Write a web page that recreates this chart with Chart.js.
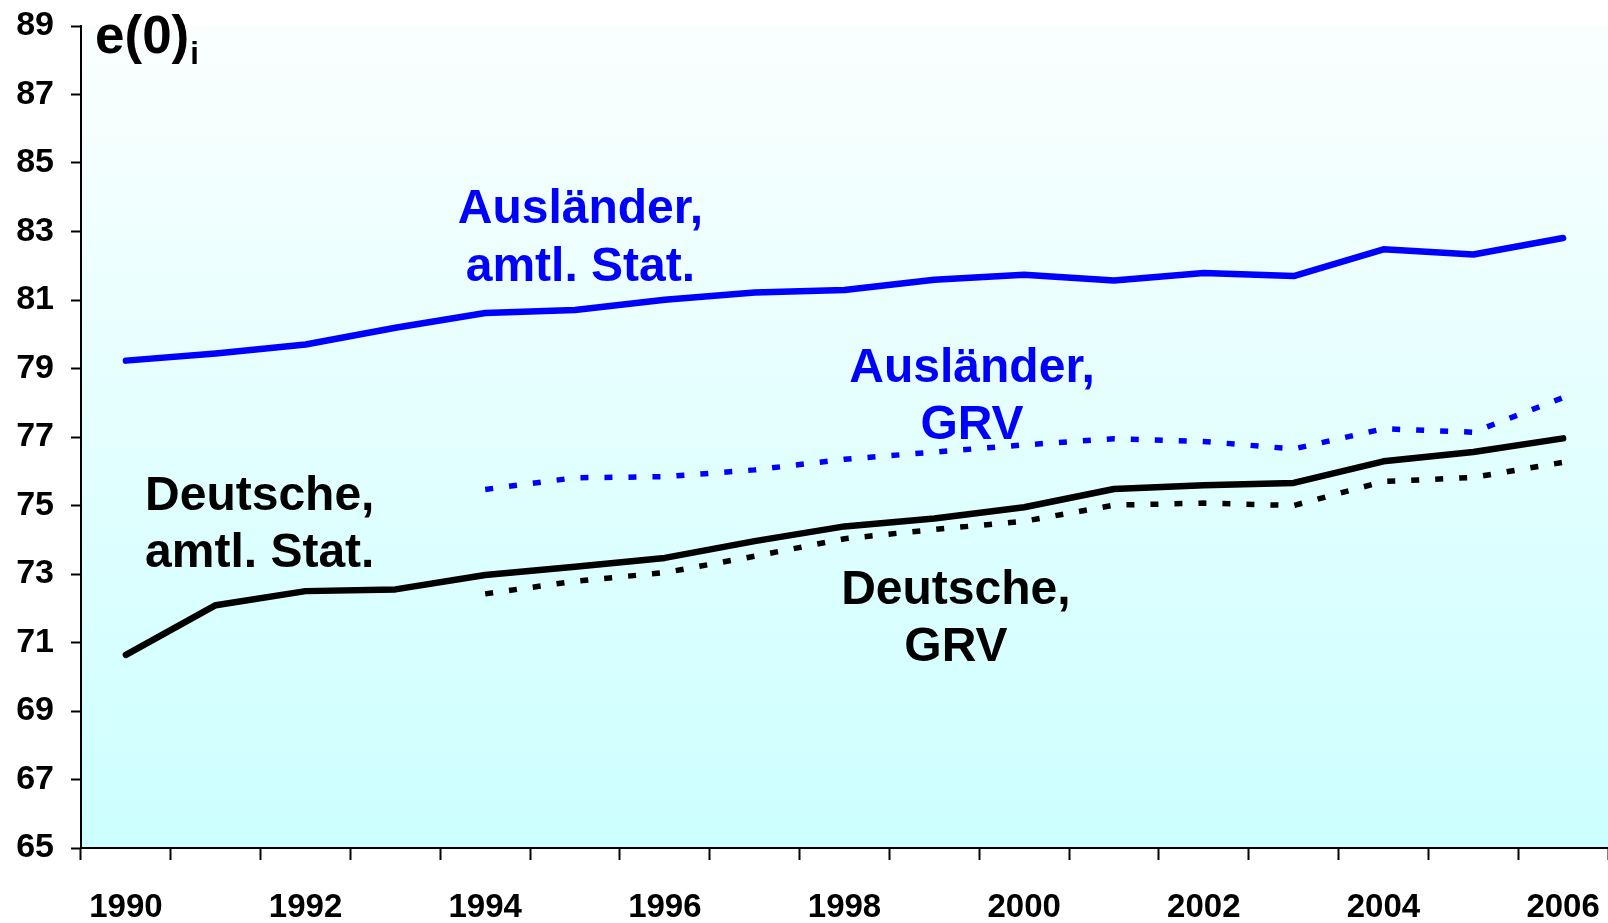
<!DOCTYPE html>
<html>
<head>
<meta charset="utf-8">
<title>Lebenserwartung e(0)</title>
<script src="https://cdn.jsdelivr.net/npm/chart.js@4/dist/chart.umd.min.js"></script>
<style>
    html, body { margin: 0; padding: 0; background: #ffffff; overflow: hidden; }
    #wrap { width: 1608px; height: 923px; position: relative; }
</style>
</head>
<body>
<div id="wrap"><canvas id="chart"></canvas></div>
<script>
// Data
const years = ['1990', '1991', '1992', '1993', '1994', '1995', '1996', '1997', '1998',
    '1999', '2000', '2001', '2002', '2003', '2004', '2005', '2006'];
const auslaenderAmtl = [79.23, 79.44, 79.70, 80.19, 80.62, 80.71, 81.01, 81.22, 81.29,
    81.59, 81.74, 81.57, 81.79, 81.70, 82.48, 82.33, 82.81];
const auslaenderGrv = [null, null, null, null, 75.47, 75.81, 75.84, 76.04, 76.35,
    76.56, 76.77, 76.95, 76.87, 76.65, 77.24, 77.14, 78.15];
const deutscheAmtl = [70.64, 72.09, 72.50, 72.55, 72.97, 73.21, 73.47, 73.96, 74.39,
    74.62, 74.95, 75.48, 75.59, 75.66, 76.29, 76.56, 76.96];
const deutscheGrv = [null, null, null, null, 72.42, 72.79, 73.04, 73.52, 74.03,
    74.30, 74.54, 75.01, 75.07, 75.00, 75.70, 75.82, 76.26];
const yMin = 65;
const yMax = 89;
const yStep = 2;

const BLUE = '#0000ff';
const BLACK = '#000000';
const FONT = '"Liberation Sans", Arial, sans-serif';

// Labels written next to the curves (category index / value of first baseline)
const curveLabels = [
    { lines: ['Ausländer,', 'amtl. Stat.'], idx: 5.06, val: 83.24, color: BLUE },
    { lines: ['Ausländer,', 'GRV'], idx: 9.42, val: 78.62, color: BLUE },
    { lines: ['Deutsche,', 'amtl. Stat.'], idx: 1.49, val: 74.88, color: BLACK },
    { lines: ['Deutsche,', 'GRV'], idx: 9.24, val: 72.13, color: BLACK }
];

// Light cyan gradient behind the plot area
const backgroundPlugin = {
    id: 'plotBackground',
    beforeDraw(chart) {
        const { ctx, chartArea } = chart;
        const grad = ctx.createLinearGradient(0, chartArea.top, 0, chartArea.bottom);
        grad.addColorStop(0, '#fafffe');
        grad.addColorStop(1, '#ccffff');
        ctx.save();
        ctx.fillStyle = grad;
        ctx.fillRect(chartArea.left, chartArea.top, chartArea.right - chartArea.left, chartArea.bottom - chartArea.top);
        ctx.restore();
    }
};

// Curve names and the e(0)i title inside the plot
const textPlugin = {
    id: 'curveText',
    afterDatasetsDraw(chart) {
        const { ctx, chartArea } = chart;
        const xs = chart.scales.x;
        const ys = chart.scales.y;
        ctx.save();
        ctx.font = 'bold 48px ' + FONT;
        ctx.textAlign = 'center';
        ctx.textBaseline = 'alphabetic';
        curveLabels.forEach(function (lab) {
            const x = xs.getPixelForValue(lab.idx);
            const y = ys.getPixelForValue(lab.val);
            ctx.fillStyle = lab.color;
            lab.lines.forEach(function (line, i) {
                ctx.fillText(line, x, y + i * 57.5);
            });
        });

        // e(0) with subscript i
        ctx.textAlign = 'left';
        ctx.fillStyle = BLACK;
        ctx.font = 'bold 53px ' + FONT;
        const tx = chartArea.left + 14;
        const ty = chartArea.top + 27;
        ctx.fillText('e(0)', tx, ty);
        const w = ctx.measureText('e(0)').width;
        ctx.font = 'bold 31px ' + FONT;
        ctx.fillText('i', tx + w + 1, ty + 11);
        ctx.restore();
    }
};

const ctx = document.getElementById('chart').getContext('2d');
const chart = new Chart(ctx, {
    type: 'line',
    data: {
        labels: years,
        datasets: [
            {
                label: 'Ausländer, amtl. Stat.',
                data: auslaenderAmtl,
                borderColor: BLUE,
                borderWidth: 6.5,
                borderCapStyle: 'round',
                borderJoinStyle: 'round'
            },
            {
                label: 'Ausländer, GRV',
                data: auslaenderGrv,
                borderColor: BLUE,
                borderWidth: 5.5,
                borderDash: [8, 16],
                borderCapStyle: 'butt'
            },
            {
                label: 'Deutsche, amtl. Stat.',
                data: deutscheAmtl,
                borderColor: BLACK,
                borderWidth: 6.5,
                borderCapStyle: 'round',
                borderJoinStyle: 'round'
            },
            {
                label: 'Deutsche, GRV',
                data: deutscheGrv,
                borderColor: BLACK,
                borderWidth: 5.5,
                borderDash: [8, 16],
                borderCapStyle: 'butt'
            }
        ]
    },
    options: {
        responsive: true,
        maintainAspectRatio: false,
        animation: false,
        devicePixelRatio: 1,
        layout: { padding: { top: 26, right: 0, left: 0, bottom: 0 } },
        elements: {
            point: { radius: 0, hoverRadius: 0 },
            line: { tension: 0, fill: false }
        },
        plugins: {
            legend: { display: false },
            tooltip: { enabled: false }
        },
        scales: {
            x: {
                type: 'category',
                offset: true,
                border: { display: true, color: BLACK, width: 2 },
                grid: {
                    display: true,
                    offset: true,
                    drawOnChartArea: false,
                    drawTicks: true,
                    tickLength: 12,
                    tickColor: BLACK,
                    tickWidth: 2
                },
                ticks: {
                    autoSkip: false,
                    maxRotation: 0,
                    minRotation: 0,
                    padding: 28,
                    color: BLACK,
                    font: { family: FONT, size: 33, weight: 'bold' },
                    callback: function (value, index) {
                        return index % 2 === 0 ? years[index] : '';
                    }
                },
                afterFit: function (scale) {
                    scale.height = 75;
                    scale.paddingLeft = 0;
                    scale.paddingRight = 0;
                }
            },
            y: {
                min: yMin,
                max: yMax,
                border: { display: true, color: BLACK, width: 2 },
                grid: {
                    display: true,
                    drawOnChartArea: false,
                    drawTicks: true,
                    tickLength: 10,
                    tickColor: BLACK,
                    tickWidth: 2
                },
                ticks: {
                    stepSize: yStep,
                    padding: 17,
                    color: BLACK,
                    font: { family: FONT, size: 34, weight: 'bold' }
                },
                afterFit: function (scale) {
                    scale.width = 81;
                    scale.paddingTop = 0;
                    scale.paddingBottom = 0;
                }
            }
        }
    },
    plugins: [backgroundPlugin, textPlugin]
});
</script>
</body>
</html>
